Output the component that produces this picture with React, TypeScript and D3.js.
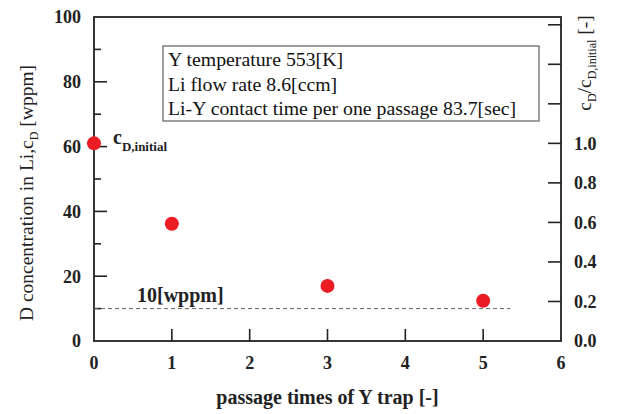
import React, { useEffect, useRef } from 'react';
import * as d3 from 'd3';

// passage times vs D concentration
const passTimes: number[] = [0, 1, 3, 5];
const concWppm: number[] = [61, 36.2, 17, 12.4];
const limitWppm = 10;
const limitEnd = 5.35;
const leftTicks: number[] = [0, 20, 40, 60, 80, 100];
const leftMinor: number[] = [10, 30, 50, 70, 90];
const rightTicks: number[] = [0, 0.2, 0.4, 0.6, 0.8, 1.0, 1.2, 1.4, 1.6];
const xTicks: number[] = [0, 1, 2, 3, 4, 5, 6];
const infoLines: string[] = [
  'Y temperature 553[K]',
  'Li flow rate 8.6[ccm]',
  'Li-Y contact time per one passage 83.7[sec]',
];

const FONT = "'Liberation Serif', 'Times New Roman', serif";

const App = () => {
  const ref = useRef<SVGSVGElement | null>(null);

  useEffect(() => {
    const svg = d3.select(ref.current);
    svg.selectAll('*').remove();
    draw(svg);
  }, []);

  return (
    <svg
      ref={ref}
      width={617}
      height={414}
      style={{ position: 'absolute', left: 0, top: 0, background: '#fff' }}
    />
  );
};

const draw = (svg: any) => {
  const margin = { top: 17, right: 56, bottom: 73, left: 94 };
  const width = 617 - margin.left - margin.right;
  const height = 414 - margin.top - margin.bottom;

  const g = svg.append('g').attr('transform', `translate(${margin.left},${margin.top})`);

  const x = d3.scaleLinear().domain([0, 6]).range([0, width]);
  const y = d3.scaleLinear().domain([0, 100]).range([height, 0]);
  // right axis: 1.0 == initial concentration
  const yr = d3.scaleLinear().domain([0, 100 / concWppm[0]]).range([height, 0]);

  // frame
  g.append('rect')
    .attr('width', width).attr('height', height)
    .attr('fill', 'none').attr('stroke', '#222').attr('stroke-width', 1.8);

  // left ticks
  g.selectAll('.lt').data(leftTicks.slice(1, -1)).enter().append('line')
    .attr('x1', 0).attr('x2', 13)
    .attr('y1', (d: number) => y(d)).attr('y2', (d: number) => y(d))
    .attr('stroke', '#222').attr('stroke-width', 1.6);
  g.selectAll('.lm').data(leftMinor).enter().append('line')
    .attr('x1', 0).attr('x2', 7)
    .attr('y1', (d: number) => y(d)).attr('y2', (d: number) => y(d))
    .attr('stroke', '#222').attr('stroke-width', 1.6);
  g.selectAll('.ltl').data(leftTicks).enter().append('text')
    .attr('x', -13).attr('y', (d: number) => y(d)).attr('dy', '0.35em')
    .attr('text-anchor', 'end')
    .style('font', `bold 18px ${FONT}`).attr('fill', '#222')
    .text((d: number) => d);

  // right ticks
  g.selectAll('.rt').data(rightTicks.slice(1)).enter().append('line')
    .attr('x1', width - 13).attr('x2', width)
    .attr('y1', (d: number) => yr(d)).attr('y2', (d: number) => yr(d))
    .attr('stroke', '#222').attr('stroke-width', 1.6);
  g.selectAll('.rtl').data(rightTicks.filter((d) => d <= 1.0001)).enter().append('text')
    .attr('x', width + 13).attr('y', (d: number) => yr(d)).attr('dy', '0.35em')
    .style('font', `bold 18px ${FONT}`).attr('fill', '#222')
    .text((d: number) => d3.format('.1f')(d));

  // x ticks
  g.selectAll('.xt').data(xTicks.slice(1, -1)).enter().append('line')
    .attr('x1', (d: number) => x(d)).attr('x2', (d: number) => x(d))
    .attr('y1', height).attr('y2', height - 12)
    .attr('stroke', '#222').attr('stroke-width', 1.6);
  g.selectAll('.xtl').data(xTicks).enter().append('text')
    .attr('x', (d: number) => x(d)).attr('y', height + 28)
    .attr('text-anchor', 'middle')
    .style('font', `bold 18px ${FONT}`).attr('fill', '#222')
    .text((d: number) => d);

  // dashed 10 wppm line
  g.append('line')
    .attr('x1', x(0)).attr('x2', x(limitEnd))
    .attr('y1', y(limitWppm)).attr('y2', y(limitWppm))
    .attr('stroke', '#666').attr('stroke-width', 1).attr('stroke-dasharray', '4,3');
  g.append('text')
    .attr('x', 43).attr('y', y(limitWppm) - 7)
    .style('font', `bold 20px ${FONT}`).attr('fill', '#222')
    .text(`${limitWppm}[wppm]`);

  // points
  g.selectAll('circle').data(passTimes).enter().append('circle')
    .attr('cx', (d: number) => x(d))
    .attr('cy', (d: number, i: number) => y(concWppm[i]))
    .attr('r', 7)
    .attr('fill', '#ec1c24');

  // c_D,initial label
  const ci = g.append('text')
    .attr('x', 19).attr('y', y(concWppm[0]) + 1)
    .style('font', `bold 20px ${FONT}`).attr('fill', '#222');
  ci.append('tspan').text('c');
  ci.append('tspan').attr('dy', 7).style('font-size', '13px').text('D,initial');

  // info box
  const bx = 69, by = 29;
  g.append('rect')
    .attr('x', bx).attr('y', by).attr('width', 376).attr('height', 75)
    .attr('fill', '#fff').attr('stroke', '#777').attr('stroke-width', 1.4);
  g.selectAll('.info').data(infoLines).enter().append('text')
    .attr('x', bx + 5).attr('y', (d: string, i: number) => by + 20 + i * 24.5)
    .style('font', `19.8px ${FONT}`).attr('fill', '#111')
    .text((d: string) => d);

  // x axis title
  svg.append('text')
    .attr('x', margin.left + width / 2).attr('y', 404)
    .attr('text-anchor', 'middle')
    .style('font', `bold 20px ${FONT}`).attr('fill', '#222')
    .text('passage times of Y trap [-]');

  // left y title
  const lt = svg.append('text')
    .attr('transform', `translate(33,${margin.top + 176}) rotate(-90)`)
    .attr('text-anchor', 'middle')
    .style('font', `19.5px ${FONT}`).attr('fill', '#222');
  lt.append('tspan').text('D concentration in Li,c');
  lt.append('tspan').attr('dy', 5).style('font-size', '12px').text('D');
  lt.append('tspan').attr('dy', -5).text(' [wppm]');

  // right y title
  const rt = svg.append('text')
    .attr('transform', `translate(591,${margin.top + 46}) rotate(-90)`)
    .attr('text-anchor', 'middle')
    .style('font', `19.5px ${FONT}`).attr('fill', '#222');
  rt.append('tspan').text('c');
  rt.append('tspan').attr('dy', 5).style('font-size', '12px').text('D');
  rt.append('tspan').attr('dy', -5).text('/c');
  rt.append('tspan').attr('dy', 5).style('font-size', '12px').text('D,initial');
  rt.append('tspan').attr('dy', -5).text(' [-]');
};

export default App;
